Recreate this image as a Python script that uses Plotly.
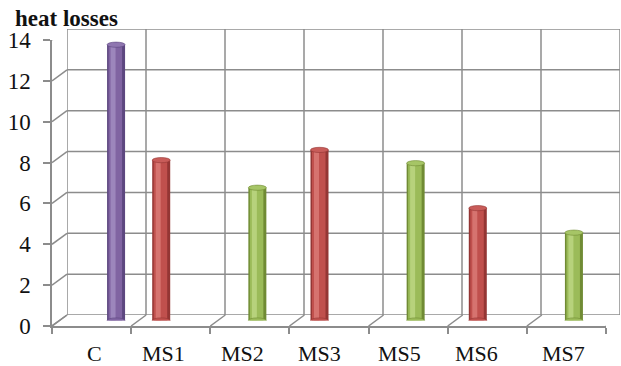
import plotly.graph_objects as go

# ---- data -------------------------------------------------------------
categories = ["C", "MS1", "MS2", "MS3", "MS5", "MS6", "MS7"]
control = [13.5, None, None, None, None, None, None]
series_red = [None, 7.85, None, 8.35, None, 5.5, None]
series_green = [None, None, 6.5, None, 7.7, None, 4.3]
y_ticks = [0, 2, 4, 6, 8, 10, 12, 14]
y_title = "heat losses"

# ---- geometry of the pseudo-3D box (pixels) ---------------------------
W, H = 621, 366
F_LEFT, F_RIGHT, F_BOTTOM, F_TOP = 52, 606, 326, 40   # front plane
DX, DY = 15, 11                                       # depth offset of back wall
Y_MAX = 14
N = len(categories)

def xdom(l, r):
    return [l / W, min(r / W, 1.0)]

def ydom(b, t):
    return [(H - b) / H, (H - t) / H]

GRID = "#8c8c8c"
GW = 1.5
FONT = "Liberation Serif"
INK = "#111111"

fig = go.Figure()

# ---- cylinders (mid-depth plane on x3/y3) -----------------------------
mid_l, mid_r = F_LEFT + DX / 2, F_RIGHT + DX / 2
mid_b, mid_t = F_BOTTOM - DY / 2, F_TOP - DY / 2
ppu = (mid_r - mid_l) / N           # pixels per category
BAR_PX, SLOT_PX = 18, 17

palette = [
    # (values, slot, dark, main, light, cap)
    (series_red, -1, "#943634", "#c0504d", "#d6736f", "#c85c59"),
    (series_green, 0, "#708b34", "#9bbb59", "#b7d27c", "#a6c566"),
    (control, 1, "#5d4780", "#8064a2", "#9c86bc", "#8f76b0"),
]
strips = [(0, 18, 0), (1.5, 13.5, 1), (3.5, 5, 2)]   # left px, width px, colour idx

idx = list(range(N))
shapes = []
for vals, slot, dark, main, light, cap in palette:
    cset = (dark, main, light)
    left_px = slot * SLOT_PX - BAR_PX / 2
    for sl, sw, ci in strips:
        fig.add_trace(go.Bar(
            x=idx, y=vals, xaxis="x3", yaxis="y3",
            width=sw / ppu, offset=(left_px + sl) / ppu,
            marker=dict(color=cset[ci], line=dict(width=0)),
            showlegend=False, hoverinfo="skip"))
    for i, v in enumerate(vals):
        if v is None:
            continue
        x0 = i + left_px / ppu
        x1 = i + (left_px + BAR_PX) / ppu
        for yv, fill in ((0, main), (v, cap)):
            shapes.append(dict(type="circle", xref="x3", yref="y3",
                               x0=x0, x1=x1, ysizemode="pixel", yanchor=yv,
                               y0=-2.6, y1=2.6, fillcolor=fill,
                               line=dict(width=0.6, color=dark), layer="above"))

# ---- back wall grid (x2/y2) -------------------------------------------
bounds = [i - 0.5 for i in range(N + 1)]
for v in y_ticks:
    shapes.append(dict(type="line", xref="x2", yref="y2", x0=-0.5, x1=N - 0.5,
                       y0=v, y1=v, line=dict(color=GRID, width=GW), layer="below"))
for b in bounds:
    shapes.append(dict(type="line", xref="x2", yref="y2", x0=b, x1=b,
                       y0=0, y1=Y_MAX, line=dict(color=GRID, width=GW), layer="below"))

# ---- side wall and floor depth edges (front axes with pixel offsets) ---
for v in y_ticks:
    shapes.append(dict(type="line", xref="x", yref="y", xsizemode="pixel",
                       ysizemode="pixel", xanchor=-0.5, yanchor=v,
                       x0=0, x1=DX, y0=0, y1=DY,
                       line=dict(color=GRID, width=GW), layer="below"))
for b in bounds:
    shapes.append(dict(type="line", xref="x", yref="y", xsizemode="pixel",
                       ysizemode="pixel", xanchor=b, yanchor=0,
                       x0=0, x1=DX, y0=0, y1=DY,
                       line=dict(color=GRID, width=GW), layer="below"))

# ---- category labels and title ----------------------------------------
label_nudge = [3, -7, -7, -10, -9, -11, -3]
annotations = []
for i, (name, dx) in enumerate(zip(categories, label_nudge)):
    annotations.append(dict(x=i, y=0, xref="x", yref="y", text=name,
                            showarrow=False, xshift=dx, yshift=-27,
                            yanchor="middle", xanchor="center",
                            font=dict(family=FONT, size=22, color=INK)))
annotations.append(dict(x=13 / W, y=1 - 19 / H, xref="paper", yref="paper",
                        text="<b>" + y_title + "</b>", showarrow=False,
                        xanchor="left", yanchor="middle",
                        font=dict(family=FONT, size=23, color=INK)))

hidden = dict(visible=False, showgrid=False, zeroline=False, automargin=False)
fig.update_layout(
    template="none",
    width=W, height=H, autosize=False,
    margin=dict(l=0, r=0, t=0, b=0, pad=0, autoexpand=False),
    paper_bgcolor="white", plot_bgcolor="rgba(0,0,0,0)",
    barmode="overlay",
    xaxis=dict(domain=xdom(F_LEFT, F_RIGHT), range=[-0.5, N - 0.5],
               showgrid=False, zeroline=False, showline=True, automargin=False,
               linecolor=GRID, linewidth=GW, ticks="outside", ticklen=6,
               tickwidth=GW, tickcolor=GRID, tickvals=bounds,
               showticklabels=False, fixedrange=True),
    yaxis=dict(domain=ydom(F_BOTTOM, F_TOP), range=[0, Y_MAX],
               showgrid=False, zeroline=False, showline=True, automargin=False,
               linecolor=GRID, linewidth=GW, ticks="outside", ticklen=7,
               tickwidth=GW, tickcolor=GRID, tickvals=y_ticks,
               ticklabelstandoff=8,
               tickfont=dict(family=FONT, size=23, color=INK),
               fixedrange=True),
    xaxis2=dict(domain=xdom(F_LEFT + DX, F_RIGHT + DX - 1), range=[-0.5, N - 0.5],
                anchor="y2", **hidden),
    yaxis2=dict(domain=ydom(F_BOTTOM - DY, F_TOP - DY), range=[0, Y_MAX],
                anchor="x2", **hidden),
    xaxis3=dict(domain=xdom(mid_l, mid_r), range=[-0.5, N - 0.5],
                anchor="y3", **hidden),
    yaxis3=dict(domain=ydom(mid_b, mid_t), range=[0, Y_MAX],
                anchor="x3", **hidden),
    shapes=shapes,
    annotations=annotations,
)

fig.write_html("out.html")
